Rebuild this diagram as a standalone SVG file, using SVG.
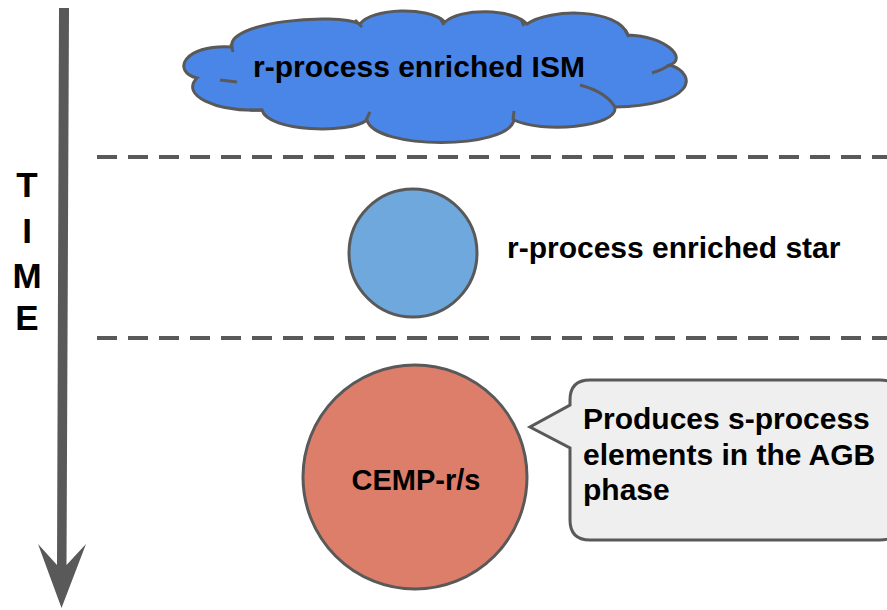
<svg xmlns="http://www.w3.org/2000/svg" width="887" height="610" viewBox="0 0 887 610">
<style>
.t{font-family:"Liberation Sans",Arial,sans-serif;font-weight:bold;fill:#000;}
.ln{stroke:#595959;fill:none;}
.sh{stroke:#595959;stroke-width:3;}
</style>
<rect width="887" height="610" fill="#fff"/>
<g id="connectors">
<line class="ln" x1="97" y1="157" x2="887" y2="157" stroke-width="4" stroke-dasharray="20,11"/>
<line class="ln" x1="97" y1="338" x2="887" y2="338" stroke-width="4" stroke-dasharray="20,11"/>
</g>
<g id="time-arrow">
<path d="M59,8 L69,8 L66.5,565 L86,544 L61.5,608 L38,544 L57,565 Z" fill="#595959"/>
<text class="t" font-size="35" text-anchor="middle" x="27" y="197">T</text>
<text class="t" font-size="35" text-anchor="middle" x="27" y="243">I</text>
<text class="t" font-size="35" text-anchor="middle" x="27" y="288">M</text>
<text class="t" font-size="35" text-anchor="middle" x="27" y="330">E</text>
</g>
<g id="ism">
<path class="sh" fill="#4a86e8" d="M232,47 C226,22 335,12 360,24 C372,8 428,6 445,22 C460,8 512,8 527,24 C550,8 618,8 628,35 C665,36 688,58 670,65 C700,75 692,106 615,107 C618,128 540,133 514,120 C508,150 375,150 367,120 C350,134 268,132 262,110 C215,112 180,95 197,78 C172,72 182,44 232,47 Z"/>
<path class="ln" stroke-width="3" d="M231,44 L233,52 M220,80 L237,82 M250,110 L263,110 M355,20 L362,27 M440,18 L444,25 M521,19 L524,26 M625,30 L629,37 M670,65 Q662,70 652,73 M580,85 Q606,92 615,107 M513,120 L514,111 M366,120 L370,112"/>
<text class="t" font-size="30" text-anchor="middle" x="419" y="77">r-process enriched ISM</text>
</g>
<g id="star">
<circle class="sh" cx="413" cy="253" r="64" fill="#6fa8dc"/>
<text class="t" font-size="30" x="507" y="258">r-process enriched star</text>
</g>
<g id="cemp">
<circle class="sh" cx="415" cy="477" r="112" fill="#dd7e6b"/>
<text class="t" font-size="29" text-anchor="middle" x="416" y="490">CEMP-r/s</text>
</g>
<g id="callout">
<path class="sh" fill="#efefef" d="M590,380 L880,380 Q900,380 900,400 L900,520 Q900,540 880,540 L590,540 Q570,540 570,520 L570,448 L530,427 L570,405 L570,400 Q570,380 590,380 Z"/>
<text class="t" font-size="30" x="583" y="429">Produces s-process</text>
<text class="t" font-size="30" x="583" y="465">elements in the AGB</text>
<text class="t" font-size="30" x="583" y="500">phase</text>
</g>
</svg>
